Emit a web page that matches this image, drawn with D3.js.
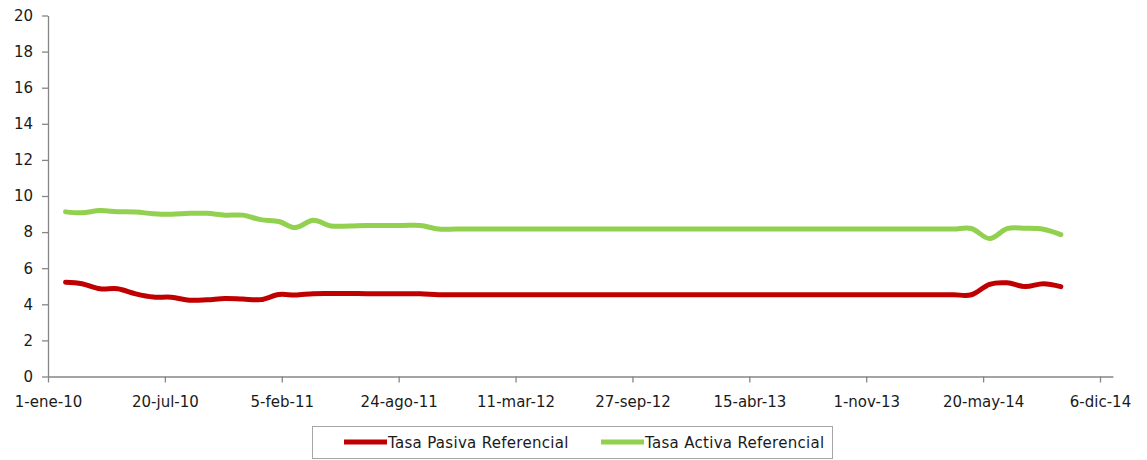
<!DOCTYPE html>
<html>
<head>
<meta charset="utf-8">
<script src="https://cdn.jsdelivr.net/npm/d3@7"></script>
<style>
  html, body { margin: 0; padding: 0; background: #fff; }
  svg { display: block; font-family: "DejaVu Sans", sans-serif; }
</style>
</head>
<body>
<svg id="chart" width="1147" height="460"></svg>
<script>
// ---- data (end-of-month observations, Jan 2010 – Sep 2014) ----
const months = [
  "2010-01","2010-02","2010-03","2010-04","2010-05","2010-06","2010-07","2010-08","2010-09","2010-10","2010-11","2010-12",
  "2011-01","2011-02","2011-03","2011-04","2011-05","2011-06","2011-07","2011-08","2011-09","2011-10","2011-11","2011-12",
  "2012-01","2012-02","2012-03","2012-04","2012-05","2012-06","2012-07","2012-08","2012-09","2012-10","2012-11","2012-12",
  "2013-01","2013-02","2013-03","2013-04","2013-05","2013-06","2013-07","2013-08","2013-09","2013-10","2013-11","2013-12",
  "2014-01","2014-02","2014-03","2014-04","2014-05","2014-06","2014-07","2014-08","2014-09"
];
const tasaPasiva = [
  5.22,5.14,4.86,4.86,4.58,4.40,4.39,4.23,4.25,4.32,4.29,4.26,
  4.54,4.51,4.59,4.60,4.60,4.59,4.59,4.58,4.58,4.53,4.53,4.53,
  4.53,4.53,4.53,4.53,4.53,4.53,4.53,4.53,4.53,4.53,4.53,4.53,
  4.53,4.53,4.53,4.53,4.53,4.53,4.53,4.53,4.53,4.53,4.53,4.53,
  4.53,4.53,4.53,4.53,5.11,5.19,4.98,5.14,4.98
];
const tasaActiva = [
  9.12,9.07,9.19,9.13,9.11,9.02,8.99,9.04,9.04,8.94,8.94,8.69,
  8.59,8.25,8.65,8.34,8.34,8.37,8.37,8.37,8.37,8.17,8.17,8.17,
  8.17,8.17,8.17,8.17,8.17,8.17,8.17,8.17,8.17,8.17,8.17,8.17,
  8.17,8.17,8.17,8.17,8.17,8.17,8.17,8.17,8.17,8.17,8.17,8.17,
  8.17,8.17,8.17,8.20,7.64,8.19,8.21,8.16,7.86
];
const xTickDates = ["2010-01-01","2010-07-20","2011-02-05","2011-08-24","2012-03-11","2012-09-27","2013-04-15","2013-11-01","2014-05-20","2014-12-06"];
const xTickLabels = ["1-ene-10","20-jul-10","5-feb-11","24-ago-11","11-mar-12","27-sep-12","15-abr-13","1-nov-13","20-may-14","6-dic-14"];
const yTicks = [0,2,4,6,8,10,12,14,16,18,20];
const seriesNames = ["Tasa Pasiva Referencial","Tasa Activa Referencial"];
const seriesColors = ["#C00000","#92D050"];

// ---- helpers ----
const parseDay = d3.utcParse("%Y-%m-%d");
const parseMonth = d3.utcParse("%Y-%m");
const endOfMonth = m => d3.utcDay.offset(d3.utcMonth.offset(parseMonth(m), 1), -1);
const dates = months.map(endOfMonth);
const tickDates = xTickDates.map(parseDay);

const svg = d3.select("#chart");
const axisColor = "#868686";
const textColor = "#1a1a1a";

const x = d3.scaleUtc()
  .domain([parseDay("2010-01-01"), d3.utcDay.offset(parseDay("2014-12-06"), 22)])
  .range([48, 1100 + (1100 - 48) / 1800 * 22]);
const y = d3.scaleLinear().domain([0, 20]).range([376.5, 15.5]);

// ---- axes ----
const xAxis = d3.axisBottom(x)
  .tickValues(tickDates)
  .tickFormat((d, i) => xTickLabels[i])
  .tickSize(6)
  .tickSizeOuter(0);
const gx = svg.append("g").attr("transform", `translate(0,${y(0)})`).call(xAxis);
gx.select(".domain").attr("stroke", axisColor).attr("stroke-width", 1.3);
gx.selectAll(".tick line").attr("stroke", axisColor).attr("stroke-width", 1.3);
gx.selectAll(".tick text")
  .attr("fill", textColor).attr("font-size", "15px")
  .attr("font-family", "DejaVu Sans, sans-serif")
  .attr("dy", "1.42em");

const yAxis = d3.axisLeft(y)
  .tickValues(yTicks)
  .tickFormat(d3.format("d"))
  .tickSize(6)
  .tickSizeOuter(0);
const gy = svg.append("g").attr("transform", `translate(${x.range()[0]},0)`).call(yAxis);
gy.select(".domain").attr("stroke", axisColor).attr("stroke-width", 1.3);
gy.selectAll(".tick line").attr("stroke", axisColor).attr("stroke-width", 1.3);
gy.selectAll(".tick text")
  .attr("fill", textColor).attr("font-size", "15px")
  .attr("font-family", "DejaVu Sans, sans-serif")
  .attr("x", -15);

// ---- lines ----
const line = d3.line()
  .x((d, i) => x(dates[i]))
  .y(d => y(d))
  .curve(d3.curveCardinal.tension(0));

[tasaPasiva, tasaActiva].forEach((vals, k) => {
  svg.append("path")
    .datum(vals)
    .attr("fill", "none")
    .attr("stroke", seriesColors[k])
    .attr("stroke-width", 5)
    .attr("stroke-linecap", "round")
    .attr("stroke-linejoin", "round")
    .attr("d", line);
});

// ---- legend ----
const legend = svg.append("g");
legend.append("rect")
  .attr("x", 312.5).attr("y", 426.5)
  .attr("width", 520).attr("height", 32)
  .attr("fill", "#fff").attr("stroke", "#a6a6a6").attr("stroke-width", 1);
const legendItems = [{x: 344}, {x: 601}];
legendItems.forEach((it, k) => {
  legend.append("line")
    .attr("x1", it.x).attr("x2", it.x + 43)
    .attr("y1", 442).attr("y2", 442)
    .attr("stroke", seriesColors[k]).attr("stroke-width", 5);
  legend.append("text")
    .attr("x", it.x + 44).attr("y", 447.5)
    .attr("fill", textColor).attr("font-size", "15px")
    .attr("letter-spacing", "0.3px")
    .attr("font-family", "DejaVu Sans, sans-serif")
    .text(seriesNames[k]);
});
</script>
</body>
</html>
